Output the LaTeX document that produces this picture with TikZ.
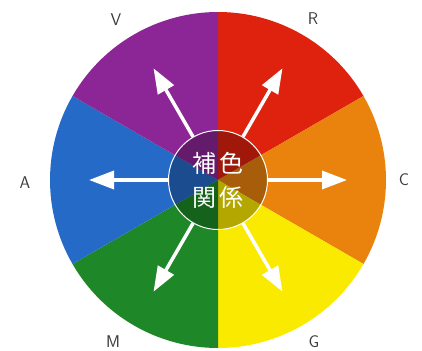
\documentclass[tikz,border=0pt]{standalone}
\usepackage{fontspec}
\usepackage{tikz}
\usetikzlibrary{arrows.meta}
\newfontfamily\cjk{Noto Sans CJK JP}

\definecolor{wheelV}{RGB}{140,38,150}
\definecolor{wheelR}{RGB}{222,34,14}
\definecolor{wheelC}{RGB}{234,130,14}
\definecolor{wheelG}{RGB}{250,234,0}
\definecolor{wheelM}{RGB}{30,136,40}
\definecolor{wheelA}{RGB}{38,106,200}
\definecolor{labelgray}{RGB}{60,60,60}

\tikzset{
  hue/.style={text=labelgray, font=\sffamily\fontsize{17}{17}\selectfont},
  pointer/.style={draw=white, line width=3.5pt, -{Triangle[length=25pt,width=18pt]}},
}

\begin{document}
\begin{tikzpicture}[x=1pt, y=1pt]
  \useasboundingbox (-218,-170) rectangle (204,180);
  % colour wheel
  \fill[wheelR] (0,0) -- (90:168) arc[start angle=90, end angle=30, radius=168] -- cycle;
  \fill[wheelC] (0,0) -- (30:168) arc[start angle=30, end angle=-30, radius=168] -- cycle;
  \fill[wheelG] (0,0) -- (-30:168) arc[start angle=-30, end angle=-90, radius=168] -- cycle;
  \fill[wheelM] (0,0) -- (-90:168) arc[start angle=-90, end angle=-150, radius=168] -- cycle;
  \fill[wheelA] (0,0) -- (-150:168) arc[start angle=-150, end angle=-210, radius=168] -- cycle;
  \fill[wheelV] (0,0) -- (150:168) arc[start angle=150, end angle=90, radius=168] -- cycle;

  \node[circle, minimum size=99pt, inner sep=0pt, draw=white, line width=1pt,
        fill=black, fill opacity=0.28, text opacity=1, text=white, align=center,
        font=\cjk\fontsize{24}{34}\selectfont] (hub) at (0,0) {補\hspace{3pt}色\\関\hspace{3pt}係};

  \coordinate (tipR) at (60:129);
  \coordinate (tipC) at (0:129);
  \coordinate (tipG) at (-60:129);
  \coordinate (tipM) at (-120:129);
  \coordinate (tipA) at (180:129);
  \coordinate (tipV) at (120:129);
  \draw[pointer] (hub.60) -- (tipR);
  \draw[pointer] (hub.0) -- (tipC);
  \draw[pointer] (hub.-60) -- (tipG);
  \draw[pointer] (hub.-120) -- (tipM);
  \draw[pointer] (hub.180) -- (tipA);
  \draw[pointer] (hub.120) -- (tipV);

  \node[hue] (V) at (-102,160) {V};
  \node[hue] (R) at (95,161) {R};
  \node[hue] (C) at (186,0) {C};
  \node[hue] (G) at (96,-162) {G};
  \node[hue] (M) at (-105,-162) {M};
  \node[hue] (A) at (-193,-3) {A};
\end{tikzpicture}
\end{document}
